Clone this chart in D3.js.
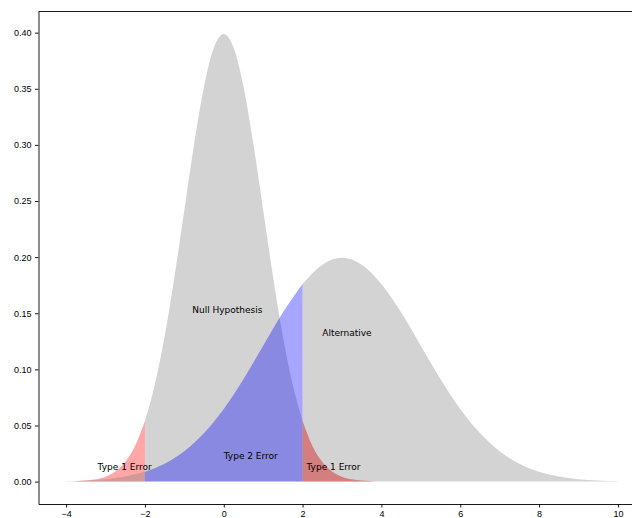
<!DOCTYPE html>
<html>
<head>
<meta charset="utf-8">
<script src="https://cdn.jsdelivr.net/npm/d3@7"></script>
<style>
  body { margin: 0; background: #fff; }
  svg { display: block; font-family: "DejaVu Sans", sans-serif; }
  .axis text { font-size: 9px; fill: #000; }
  .axis path, .axis line { stroke: #000; stroke-width: 0.9; }
  .lbl { font-size: 9px; fill: #000; }
</style>
</head>
<body>
<svg width="632" height="518"></svg>
<script>
// null hypothesis curve (step 0.25)
var nullX = [-4, -3.75, -3.5, -3.25, -3, -2.75, -2.5, -2.25, -2, -1.75, -1.5, -1.25, -1, -0.75, -0.5, -0.25,
             0, 0.25, 0.5, 0.75, 1, 1.25, 1.5, 1.75, 2, 2.25, 2.5, 2.75, 3, 3.25, 3.5, 3.75, 4];
var nullY = [0.0001, 0.0004, 0.0009, 0.0020, 0.0044, 0.0091, 0.0175, 0.0317, 0.0540, 0.0863, 0.1295, 0.1826, 0.2420, 0.3011, 0.3521, 0.3867,
             0.3989, 0.3867, 0.3521, 0.3011, 0.2420, 0.1826, 0.1295, 0.0863, 0.0540, 0.0317, 0.0175, 0.0091, 0.0044, 0.0020, 0.0009, 0.0004, 0.0001];

// alternative curve (step 0.5)
var altX = [-4, -3.5, -3, -2.5, -2, -1.5, -1, -0.5, 0, 0.5, 1, 1.5, 2, 2.5, 3,
            3.5, 4, 4.5, 5, 5.5, 6, 6.5, 7, 7.5, 8, 8.5, 9, 9.5, 10];
var altY = [0.0004, 0.0010, 0.0022, 0.0045, 0.0088, 0.0159, 0.0270, 0.0432, 0.0648, 0.0913, 0.1210, 0.1506, 0.1760, 0.1933, 0.1995,
            0.1933, 0.1760, 0.1506, 0.1210, 0.0913, 0.0648, 0.0432, 0.0270, 0.0159, 0.0088, 0.0046, 0.0022, 0.0010, 0.0004];

var xTicks = [-4, -2, 0, 2, 4, 6, 8, 10];
var yTicks = [0, 0.05, 0.10, 0.15, 0.20, 0.25, 0.30, 0.35, 0.40];

var labels = [
  {x: -0.8, y: 0.15, s: "Null Hypothesis"},
  {x: 2.5, y: 0.13, s: "Alternative"},
  {x: 2.1, y: 0.01, s: "Type 1 Error"},
  {x: -3.2, y: 0.01, s: "Type 1 Error"},
  {x: 0, y: 0.02, s: "Type 2 Error"}
];

var svg = d3.select("svg");
var plotL = 38.5, plotT = 11.5, plotB = 504, plotR = 645.5;

var x = d3.scaleLinear().domain([-4.7, 10.7]).range([plotL, plotR]);
var y = d3.scaleLinear().domain([-0.01995, 0.41884]).range([plotB, plotT]);

function pts(xs, ys, lo, hi) {
  var out = [];
  xs.forEach(function(v, i) { if (v >= lo && v <= hi) out.push({x: v, y: ys[i]}); });
  return out;
}

var area = d3.area()
  .x(function(d) { return x(d.x); })
  .y0(y(0))
  .y1(function(d) { return y(d.y); })
  .curve(d3.curveMonotoneX);

// same order as the original fills
var fills = [
  {d: pts(nullX, nullY, -4, -2), c: "red", a: 0.35},
  {d: pts(nullX, nullY, -2, 2), c: "grey", a: 0.35},
  {d: pts(nullX, nullY, 2, 4), c: "red", a: 0.5},
  {d: pts(altX, altY, -4, -2), c: "grey", a: 0.35},
  {d: pts(altX, altY, -2, 2), c: "blue", a: 0.35},
  {d: pts(altX, altY, 2, 10), c: "grey", a: 0.35}
];

svg.append("g").selectAll("path")
  .data(fills)
  .enter().append("path")
  .attr("d", function(f) { return area(f.d); })
  .attr("fill", function(f) { return f.c; })
  .attr("fill-opacity", function(f) { return f.a; });

// text
svg.append("g").selectAll("text")
  .data(labels)
  .enter().append("text")
  .attr("class", "lbl")
  .attr("x", function(d) { return x(d.x); })
  .attr("y", function(d) { return y(d.y); })
  .text(function(d) { return d.s; });

// axes
svg.append("g")
  .attr("class", "axis")
  .attr("transform", "translate(0," + plotB + ")")
  .call(d3.axisBottom(x).tickValues(xTicks).tickFormat(d3.format("d")).tickSize(3.5).tickPadding(3.5).tickSizeOuter(0));

svg.append("g")
  .attr("class", "axis")
  .attr("transform", "translate(" + plotL + ",0)")
  .call(d3.axisLeft(y).tickValues(yTicks).tickFormat(d3.format(".2f")).tickSize(3.5).tickPadding(3.5).tickSizeOuter(0));

// top and right spines
svg.append("line").attr("x1", plotL).attr("x2", plotR).attr("y1", plotT).attr("y2", plotT)
  .attr("stroke", "#000").attr("stroke-width", 0.9);
svg.append("line").attr("x1", plotR).attr("x2", plotR).attr("y1", plotT).attr("y2", plotB)
  .attr("stroke", "#000").attr("stroke-width", 0.9);
</script>
</body>
</html>
